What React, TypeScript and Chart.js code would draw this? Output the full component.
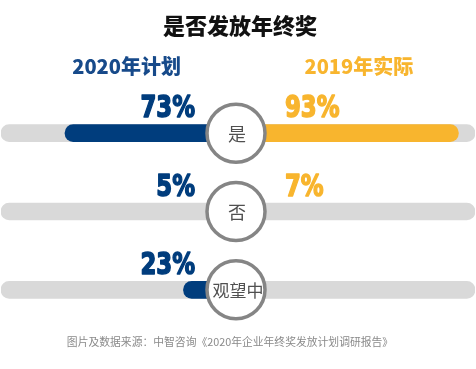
import React, { useEffect, useRef } from "react";
import { Chart, registerables } from "chart.js";

Chart.register(...registerables);

const categories = ["是", "否", "观望中"];
const plan2020 = [73, 5, 23];
const actual2019: (number | null)[] = [93, 7, null];
const seriesNames = ["2020年计划", "2019年实际"];
const title = "是否发放年终奖";
const source = "图片及数据来源：中智咨询《2020年企业年终奖发放计划调研报告》";

const NAVY = "#003d7d";
const NAVY_TEXT = "#174a8a";
const GOLD = "#f8b52e";
const TRACK = "#d9d9d9";

export default function App() {
  const ref = useRef<HTMLCanvasElement | null>(null);

  useEffect(() => {
    if (!ref.current) return;
    const overlay = {
      id: "overlay",
      afterDatasetsDraw(chart: any) {
        const ctx = chart.ctx;
        const xs = chart.scales.x;
        const ys = chart.scales.y;
        const cx = xs.getPixelForValue(0);
        ctx.save();
        // title
        ctx.fillStyle = "#111";
        ctx.font = "900 22px 'Noto Sans CJK SC'";
        ctx.textAlign = "center";
        ctx.textBaseline = "middle";
        ctx.fillText(title, cx + 2, 26);
        // series labels
        ctx.font = "900 20px 'Noto Sans CJK SC'";
        ctx.fillStyle = NAVY_TEXT;
        ctx.fillText(seriesNames[0], xs.getPixelForValue(-47), 66);
        ctx.fillStyle = GOLD;
        ctx.fillText(seriesNames[1], xs.getPixelForValue(51), 66);
        // rows
        categories.forEach((cat, i) => {
          const y = ys.getPixelForValue(i);
          const drawPct = (v: number | null, left: boolean, color: string) => {
            if (v == null) return;
            ctx.save();
            ctx.fillStyle = color;
            ctx.strokeStyle = color;
            ctx.lineWidth = 1.6;
            ctx.lineJoin = "round";
            ctx.font = "bold 30px 'DejaVu Sans'";
            ctx.textBaseline = "alphabetic";
            const x = left ? cx - 43 : cx + 47;
            ctx.translate(x, y - 16);
            ctx.scale(0.76, 1);
            ctx.textAlign = left ? "right" : "left";
            ctx.fillText(v + "%", 0, 0);
            ctx.strokeText(v + "%", 0, 0);
            ctx.restore();
          };
          drawPct(plan2020[i], true, NAVY);
          drawPct(actual2019[i], false, GOLD);
          ctx.beginPath();
          ctx.arc(cx - 2, y, 29, 0, Math.PI * 2);
          ctx.fillStyle = "#fff";
          ctx.fill();
          ctx.lineWidth = 3.5;
          ctx.strokeStyle = "#858585";
          ctx.stroke();
          ctx.fillStyle = "#505050";
          ctx.font = (cat.length > 1 ? "17px" : "18px") + " 'Noto Sans CJK SC'";
          ctx.textAlign = "center";
          ctx.textBaseline = "middle";
          ctx.fillText(cat, cx + (cat.length > 1 ? 0 : -1), y + 1);
        });
        // source
        ctx.fillStyle = "#8a8a8a";
        ctx.font = "10.8px 'Noto Sans CJK SC'";
        ctx.textAlign = "center";
        ctx.fillText(source, cx - 8, 342);
        ctx.restore();
      },
    };

    const chart = new Chart(ref.current, {
      type: "bar",
      data: {
        labels: categories,
        datasets: [
          {
            label: seriesNames[0],
            data: plan2020.map((v) => [-v, 0]) as any,
            backgroundColor: NAVY,
            borderRadius: 9,
            borderSkipped: false,
            order: 1,
          },
          {
            label: seriesNames[1],
            data: actual2019.map((v) => (v == null ? null : [0, v])) as any,
            backgroundColor: GOLD,
            borderRadius: 9,
            borderSkipped: false,
            order: 1,
          },
          {
            label: "track",
            data: categories.map(() => [-100, 100]) as any,
            backgroundColor: TRACK,
            borderRadius: 9,
            borderSkipped: false,
            order: 2,
          },
        ],
      },
      options: {
        indexAxis: "y",
        animation: false,
        responsive: false,
        maintainAspectRatio: false,
        datasets: { bar: { grouped: false, barThickness: 17 } } as any,
        layout: { padding: { top: 94, bottom: 40, left: 1, right: 1 } },
        scales: {
          x: { min: -100, max: 100, display: false },
          y: { display: false },
        },
        plugins: {
          legend: { display: false },
          tooltip: { enabled: false },
          title: { display: false },
        },
      },
      plugins: [overlay],
    });
    return () => chart.destroy();
  }, []);

  return (
    <div style={{ position: "fixed", left: 0, top: 0, width: 476, height: 369, background: "#fff" }}>
      <canvas ref={ref} width={476} height={369} style={{ width: 476, height: 369 }} />
    </div>
  );
}
